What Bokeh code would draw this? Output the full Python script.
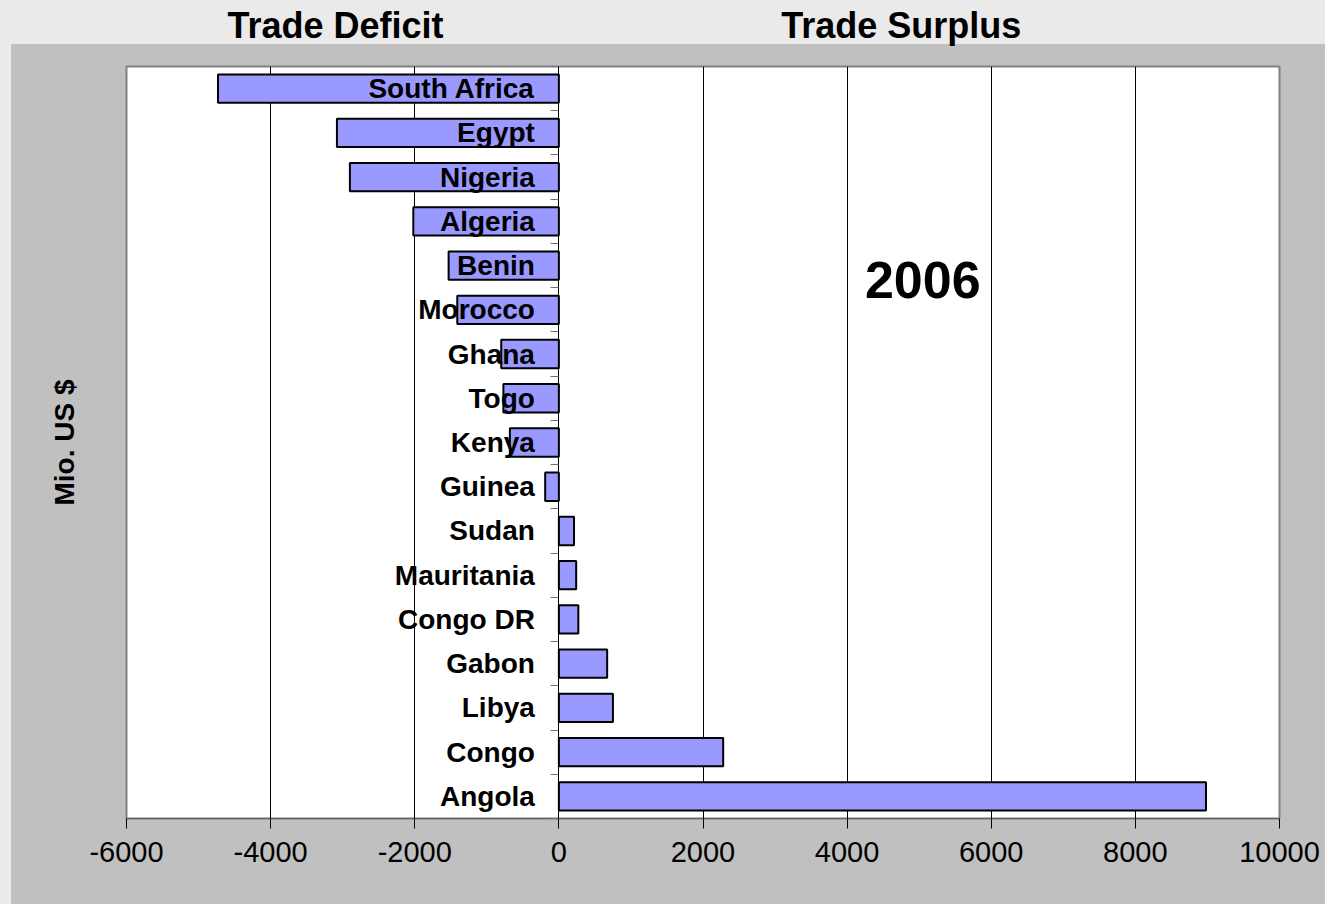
import numpy as np
from bokeh.plotting import figure
from bokeh.models import Range1d, FixedTicker, Label, ColumnDataSource, LinearAxis, Title
from bokeh.core.properties import value
from bokeh.embed import file_html
from bokeh.resources import INLINE

# ---- data ----
countries = ["South Africa", "Egypt", "Nigeria", "Algeria", "Benin", "Morocco",
             "Ghana", "Togo", "Kenya", "Guinea", "Sudan", "Mauritania",
             "Congo DR", "Gabon", "Libya", "Congo", "Angola"]
balance = [-4730, -3080, -2900, -2020, -1530, -1410, -800, -770, -680, -190,
           210, 240, 270, 670, 750, 2280, 8980]
x_ticks = [-6000, -4000, -2000, 0, 2000, 4000, 6000, 8000, 10000]
x_tick_labels = ["-6000", "-4000", "-2000", "0", "2000", "4000", "6000", "8000", "10000"]
side_titles = ["Trade Deficit", "Trade Surplus"]
side_title_x = [-3100, 4750]
year_label = "2006"
unit_label = "Mio. US $"

FONT = "Liberation Sans"
n = len(countries)
pos = [n - 1 - i for i in range(n)]
src = ColumnDataSource(dict(country=countries, value=balance, pos=pos, zero=[0] * n))

W, H = 1325, 904
p = figure(width=W, height=H, x_range=Range1d(x_ticks[0], x_ticks[-1]),
           y_range=Range1d(-0.5, n - 0.5), output_backend="svg", toolbar_location=None,
           min_border_left=126, min_border_right=46, min_border_top=66, min_border_bottom=86,
           border_fill_color="#c0c0c0", border_fill_alpha=0, background_fill_color="white",
           outline_line_color="#808080", outline_line_width=2)
p.styles = {"background": "linear-gradient(to right, #eaeaea 11px, rgba(0,0,0,0) 11px), "
                          "linear-gradient(to bottom, #eaeaea 44px, #c0c0c0 44px)"}

p.hbar(y="pos", left="zero", right="value", height=0.64, source=src,
       fill_color="#9999ff", line_color="black", line_width=2)

p.text(x="zero", y="pos", text="country", source=src, x_offset=-24,
       text_align="right", text_baseline="middle", text_font=value(FONT),
       text_font_style="bold", text_font_size="28px", text_color="black")

# x axis
xa = p.xaxis[0]
xa.ticker = FixedTicker(ticks=x_ticks)
xa.major_label_overrides = {t: l for t, l in zip(x_ticks, x_tick_labels)}
xa.major_label_text_font = FONT
xa.major_label_text_font_size = "29px"
xa.major_label_text_color = "black"
xa.major_label_standoff = 13
xa.major_tick_out = 10
xa.major_tick_in = 0
xa.minor_tick_out = 0
xa.minor_tick_in = 0
xa.axis_line_color = "#606060"
xa.major_tick_line_color = "black"

# top axis carrying the two section titles
ta = LinearAxis(ticker=FixedTicker(ticks=side_title_x),
                major_label_overrides={t: l for t, l in zip(side_title_x, side_titles)},
                major_label_text_font=FONT, major_label_text_font_style="bold",
                major_label_text_font_size="36px", major_label_text_color="black",
                major_label_standoff=21, major_tick_out=0, major_tick_in=0,
                minor_tick_out=0, minor_tick_in=0, axis_line_color=None)
p.add_layout(ta, "above")

# y axis drawn at x = 0 with ticks between categories
ya = p.yaxis[0]
ya.fixed_location = 0
y_ticks = [k - 0.5 for k in range(n + 1)]
ya.ticker = FixedTicker(ticks=y_ticks)
ya.major_label_overrides = {t: "" for t in y_ticks}
ya.major_tick_out = 8
ya.major_tick_in = 0
ya.minor_tick_out = 0
ya.minor_tick_in = 0
ya.axis_line_color = "black"
ya.axis_line_width = 1
ya.major_tick_line_color = "#707070"

p.add_layout(Title(text=unit_label, align="center", text_font=FONT, text_font_style="bold",
                   text_font_size="28px", text_color="black", standoff=93), "left")

p.xgrid.ticker = FixedTicker(ticks=x_ticks)
p.xgrid.grid_line_color = "black"
p.xgrid.grid_line_width = 1
p.ygrid.grid_line_color = None

p.add_layout(Label(x=5050, y=11.68, text=year_label,
                   text_align="center", text_baseline="middle", text_font=FONT,
                   text_font_style="bold", text_font_size="52px", text_color="black"))

open("out.html", "w").write(file_html(p, INLINE))
